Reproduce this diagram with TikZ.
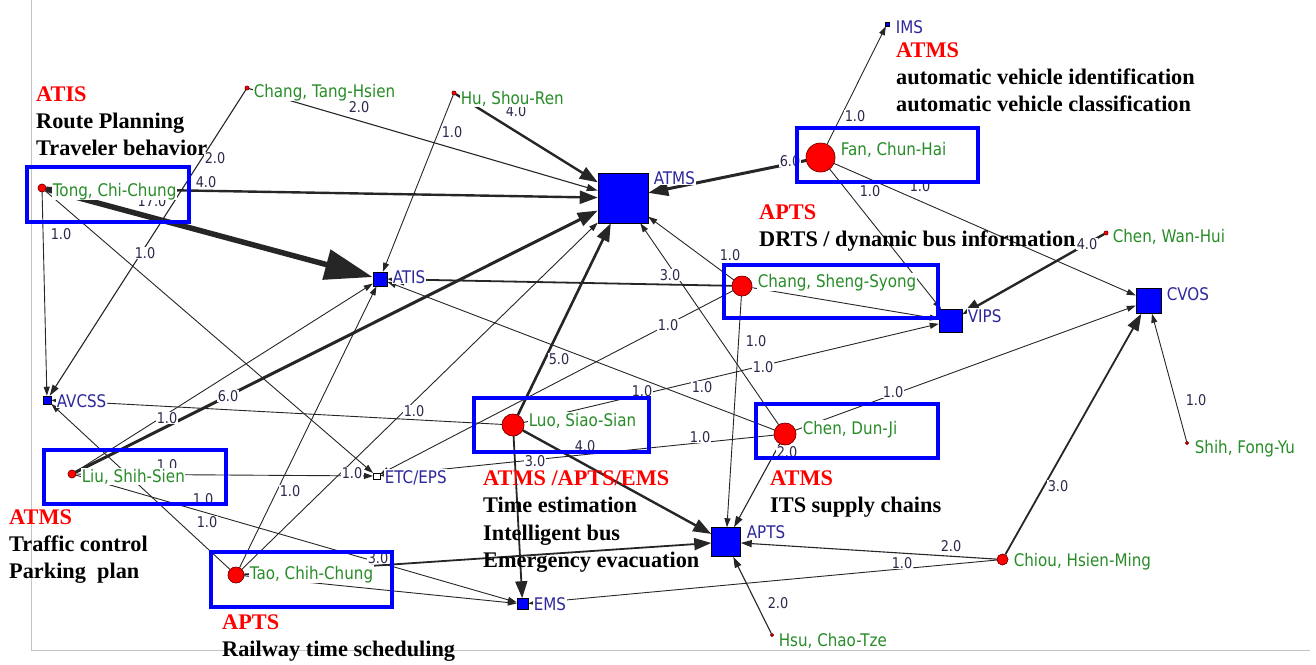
\documentclass[tikz,border=0pt]{standalone}
\usepackage{fontspec}
\setmainfont{Liberation Serif}
\newfontfamily\netfont[FakeStretch=0.87]{DejaVu Sans}
\usetikzlibrary{arrows.meta}

\definecolor{actorgreen}{RGB}{40,140,40}
\definecolor{conceptnavy}{RGB}{45,40,155}
\definecolor{wtcolor}{RGB}{45,40,75}
\definecolor{nodeblue}{RGB}{0,0,255}
\definecolor{nodered}{RGB}{255,0,0}
\definecolor{nodeedge}{RGB}{110,0,0}
\definecolor{framegray}{RGB}{195,195,195}

\tikzset{
  concept/.style={rectangle, draw=black, line width=0.5pt, fill=nodeblue, inner sep=0pt, minimum size=#1},
  actor/.style={circle, draw=nodeedge, line width=0.5pt, fill=nodered, inner sep=0pt, minimum size=#1},
  alab/.style={anchor=base west, inner sep=0.6pt, fill=white, text=actorgreen, font=\netfont\fontsize{17.4}{17.4}\selectfont},
  clab/.style={alab, text=conceptnavy},
  wt/.style={inner sep=0.6pt, fill=white, text=wtcolor, font=\netfont\fontsize{14.8}{14.8}\selectfont},
  ntie/.style={draw=black!85, line width=#1},
  w1/.style={ntie=0.9pt, -{Triangle[length=9pt,width=6pt]}},
  w2/.style={ntie=1.1pt, -{Triangle[length=11pt,width=7pt]}},
  w3/.style={ntie=1.8pt, -{Triangle[length=17pt,width=12pt]}},
  w4/.style={ntie=2.4pt, -{Triangle[length=18pt,width=13pt]}},
  w5/.style={ntie=2.6pt, -{Triangle[length=18pt,width=13pt]}},
  w6/.style={ntie=3.0pt, -{Triangle[length=20pt,width=14pt]}},
  w17/.style={ntie=5.5pt, -{Triangle[length=48pt,width=30pt]}},
  hbox/.style={draw=nodeblue, line width=3.5pt},
  annred/.style={anchor=base west, inner sep=0pt, text=nodered, font=\fontsize{22.3}{27}\selectfont\bfseries},
  annblk/.style={annred, text=black},
}

\begin{document}
\begin{tikzpicture}[x=1pt, y=-1pt]
\useasboundingbox (0,0) rectangle (1316,664);

% plotting frame
\draw[framegray, line width=1pt] (31,0) -- (31,650) -- (1310,650);

% concept nodes (squares)
\node[concept=50pt]  (atms)  at (623,198)   {};
\node[concept=14pt]  (atis)  at (380,279)   {};
\node[concept=23pt]  (vips)  at (950.5,321) {};
\node[concept=25pt]  (cvos)  at (1148.5,301){};
\node[concept=29pt]  (apts)  at (726,542)   {};
\node[concept=11pt]  (ems)   at (522.5,604) {};
\node[concept=8pt]   (avcss) at (47,400)    {};
\node[concept=6.5pt, fill=white] (etc) at (376.5,476) {};
\node[concept=4pt]   (ims)   at (887,24)    {};

% actor nodes (circles)
\node[actor=8pt]  (tong)    at (42,188)     {};
\node[actor=4pt]  (changth) at (247,88)     {};
\node[actor=4pt]  (hu)      at (454,93)     {};
\node[actor=29pt] (fan)     at (820.5,157.5){};
\node[actor=20pt] (changss) at (742,286)    {};
\node[actor=4pt]  (chenwh)  at (1106,233)   {};
\node[actor=22pt] (luo)     at (513,425)    {};
\node[actor=22pt] (chendj)  at (785,434)    {};
\node[actor=8pt]  (liu)     at (72,474)     {};
\node[actor=16pt] (tao)     at (236,575)    {};
\node[actor=11pt] (chiou)   at (1002.5,559.5){};
\node[actor=3pt]  (shih)    at (1187,443)   {};
\node[actor=3pt]  (hsu)     at (772,635)    {};

% ties
\draw[w17] (tong) -- (atis);
\draw[w4]  (tong) -- (atms);
\draw[w1]  (tong) -- (avcss);
\draw[w1]  (tong) -- (etc);
\draw[w2]  (changth) -- (atms);
\draw[w2]  (changth) -- (avcss);
\draw[w4]  (hu) -- (atms);
\draw[w1]  (hu) -- (atis);
\draw[w6]  (fan) -- (atms);
\draw[w1]  (fan) -- (ims);
\draw[w1]  (fan) -- (vips);
\draw[w1]  (fan) -- (cvos);
\draw[w1]  (changss) -- (atms);
\draw[w3]  (changss) -- (atis);
\draw[w1]  (changss) -- (vips);
\draw[w1]  (changss) -- (apts);
\draw[w1]  (changss) -- (etc);
\draw[w4]  (chenwh) -- (vips);
\draw[w5]  (luo) -- (atms);
\draw[w4]  (luo) -- (apts);
\draw[w3]  (luo) -- (ems);
\draw[w1]  (luo) -- (avcss);
\draw[w1]  (luo) -- (vips);
\draw[w1]  (chendj) -- (atms);
\draw[w1]  (chendj) -- (atis);
\draw[w1]  (chendj) -- (etc);
\draw[w1]  (chendj) -- (cvos);
\draw[w2]  (chendj) -- (apts);
\draw[w6]  (liu) -- (atms);
\draw[w1]  (liu) -- (atis);
\draw[w1]  (liu) -- (etc);
\draw[w1]  (liu) -- (ems);
\draw[w3]  (tao) -- (apts);
\draw[w1]  (tao) -- (ems);
\draw[w1]  (tao) -- (atms);
\draw[w1]  (tao) -- (atis);
\draw[w1]  (tao) -- (avcss);
\draw[w3]  (chiou) -- (cvos);
\draw[w2]  (chiou) -- (apts);
\draw[w1]  (chiou) -- (ems);
\draw[w1]  (shih) -- (cvos);
\draw[w2]  (hsu) -- (apts);

% node shapes again, above the ties
\foreach \n/\s in {atms/50pt, atis/14pt, vips/23pt, cvos/25pt, apts/29pt, ems/11pt, avcss/8pt, ims/4pt}
  \node[concept=\s] at (\n) {};
\node[concept=6.5pt, fill=white] at (etc) {};
\foreach \n/\s in {tong/8pt, changth/4pt, hu/4pt, fan/29pt, changss/20pt, chenwh/4pt, luo/22pt, chendj/22pt, liu/8pt, tao/16pt, chiou/11pt, shih/3pt, hsu/3pt}
  \node[actor=\s] at (\n) {};

% tie values
\node[wt] (v01) at (152,201)  {17.0};
\node[wt] (v02) at (206,182)  {4.0};
\node[wt] (v03) at (215,158)  {2.0};
\node[wt] (v04) at (61,234)   {1.0};
\node[wt] (v05) at (145,253)  {1.0};
\node[wt] (v06) at (359,107)  {2.0};
\node[wt] (v07) at (452,132)  {1.0};
\node[wt] (v08) at (516,111)  {4.0};
\node[wt] (v09) at (790,161)  {6.0};
\node[wt] (v10) at (855,116)  {1.0};
\node[wt] (v11) at (870,191)  {1.0};
\node[wt] (v12) at (920,186)  {1.0};
\node[wt] (v13) at (1087,244) {4.0};
\node[wt] (v14) at (730,255)  {1.0};
\node[wt] (v15) at (670,275)  {3.0};
\node[wt] (v16) at (668,325)  {1.0};
\node[wt] (v17) at (756,341)  {1.0};
\node[wt] (v18) at (763,367)  {1.0};
\node[wt] (v19) at (702,387)  {1.0};
\node[wt] (v20) at (642,391)  {1.0};
\node[wt] (v21) at (700,437)  {1.0};
\node[wt] (v22) at (585,446)  {4.0};
\node[wt] (v23) at (787,452)  {2.0};
\node[wt] (v24) at (893,392)  {1.0};
\node[wt] (v25) at (1058,486) {3.0};
\node[wt] (v26) at (1196,400) {1.0};
\node[wt] (v27) at (951,546)  {2.0};
\node[wt] (v28) at (902,563)  {1.0};
\node[wt] (v29) at (778,603)  {2.0};
\node[wt] (v30) at (559,359)  {5.0};
\node[wt] (v31) at (535,461)  {3.0};
\node[wt] (v32) at (414,411)  {1.0};
\node[wt] (v33) at (228,396)  {6.0};
\node[wt] (v34) at (167,418)  {1.0};
\node[wt] (v35) at (167,465)  {1.0};
\node[wt] (v36) at (203,499)  {1.0};
\node[wt] (v37) at (207,522)  {1.0};
\node[wt] (v38) at (290,491)  {1.0};
\node[wt] (v39) at (352,473)  {1.0};
\node[wt] (v40) at (378,558)  {3.0};

% node labels
\node[alab] (tong-l)    at (52,196)   {Tong, Chi-Chung};
\node[alab] (changth-l) at (253,97)   {Chang, Tang-Hsien};
\node[alab] (hu-l)      at (460,104)  {Hu, Shou-Ren};
\node[alab] (fan-l)     at (840,155)  {Fan, Chun-Hai};
\node[alab] (chenwh-l)  at (1112,242) {Chen, Wan-Hui};
\node[alab] (changss-l) at (757,287)  {Chang, Sheng-Syong};
\node[alab] (liu-l)     at (81,482)   {Liu, Shih-Sien};
\node[alab] (luo-l)     at (528,426)  {Luo, Siao-Sian};
\node[alab] (chendj-l)  at (802,434)  {Chen, Dun-Ji};
\node[alab] (tao-l)     at (249,579)  {Tao, Chih-Chung};
\node[alab] (chiou-l)   at (1013,566) {Chiou, Hsien-Ming};
\node[alab] (shih-l)    at (1194,453) {Shih, Fong-Yu};
\node[alab] (hsu-l)     at (778,646)  {Hsu, Chao-Tze};
\node[clab] (atms-l)    at (653,184)  {ATMS};
\node[clab] (ims-l)     at (895,33)   {IMS};
\node[clab] (cvos-l)    at (1166,300) {CVOS};
\node[clab] (vips-l)    at (967,322)  {VIPS};
\node[clab] (atis-l)    at (392,283)  {ATIS};
\node[clab] (avcss-l)   at (56,407)   {AVCSS};
\node[clab] (etc-l)     at (384,483)  {ETC/EPS};
\node[clab] (apts-l)    at (746,538)  {APTS};
\node[clab] (ems-l)     at (533,610)  {EMS};

% highlight boxes around key researchers
\draw[hbox] (27,167)  rectangle (189,222);
\draw[hbox] (797,128) rectangle (978,182);
\draw[hbox] (724,265) rectangle (938,318);
\draw[hbox] (474,398) rectangle (649,452);
\draw[hbox] (756,404) rectangle (938,458);
\draw[hbox] (44,450)  rectangle (226,504);
\draw[hbox] (211,552) rectangle (392,607);

% research-area annotations
\node[annred] (n1a) at (36,101)  {ATIS};
\node[annblk] (n1b) at (36,128)  {Route Planning};
\node[annblk] (n1c) at (36,155)  {Traveler behavior};

\node[annred] (n2a) at (896,57)  {ATMS};
\node[annblk] (n2b) at (896,84)  {automatic vehicle identification};
\node[annblk] (n2c) at (896,111) {automatic vehicle classification};

\node[annred] (n3a) at (759,219) {APTS};
\node[annblk] (n3b) at (759,246) {DRTS / dynamic bus information};

\node[annred] (n4a) at (483,485)   {ATMS /APTS/EMS};
\node[annblk] (n4b) at (483,512.5) {Time estimation};
\node[annblk] (n4c) at (483,540)   {Intelligent bus};
\node[annblk] (n4d) at (483,567)   {Emergency evacuation};

\node[annred] (n5a) at (770,485) {ATMS};
\node[annblk] (n5b) at (770,512) {ITS supply chains};

\node[annred] (n6a) at (9,524) {ATMS};
\node[annblk] (n6b) at (9,551) {Traffic control};
\node[annblk] (n6c) at (9,578) {Parking\ \ plan};

\node[annred] (n7a) at (222,629) {APTS};
\node[annblk] (n7b) at (222,656) {Railway time scheduling};
\end{tikzpicture}
\end{document}
